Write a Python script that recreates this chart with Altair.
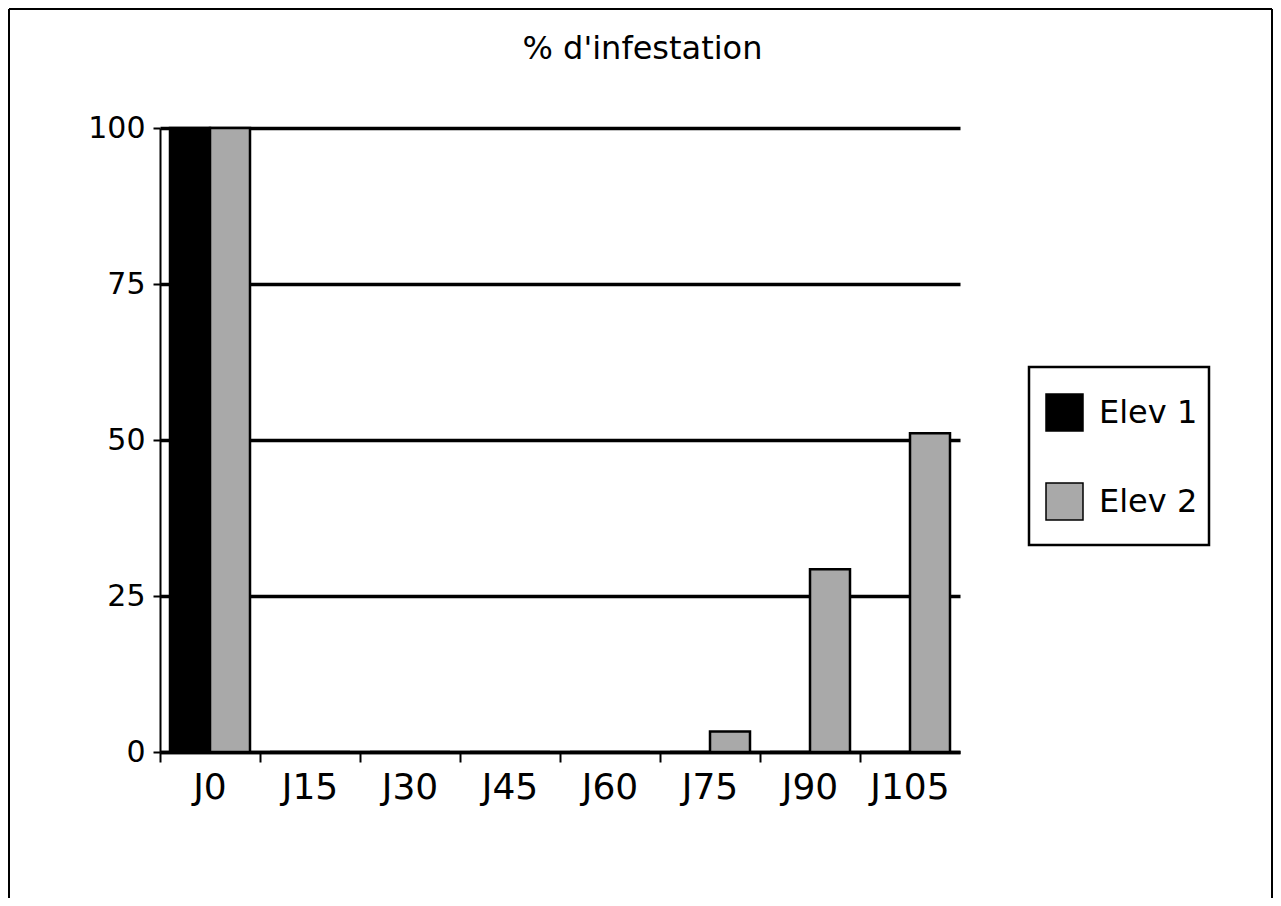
import altair as alt
import pandas as pd

title_text = "% d'infestation"
days = ["J0", "J15", "J30", "J45", "J60", "J75", "J90", "J105"]
series = ["Elev 1", "Elev 2"]
elev1 = [100, 0, 0, 0, 0, 0, 0, 0]
elev2 = [100, 0, 0, 0, 0, 3.3, 29.3, 51.1]
y_ticks = [0, 25, 50, 75, 100]

rows = []
for d, a, b in zip(days, elev1, elev2):
    rows.append({"jour": d, "serie": series[0], "val": a})
    rows.append({"jour": d, "serie": series[1], "val": b})
df = pd.DataFrame(rows)

FONT = "DejaVu Sans"

bars = alt.Chart(df).mark_bar(stroke="black", strokeWidth=2.5).encode(
    x=alt.X("jour:N", sort=days,
            scale=alt.Scale(paddingInner=0, paddingOuter=0),
            axis=alt.Axis(title=None, bandPosition=0, labelAngle=0,
                          domainColor="black", domainWidth=3.5,
                          tickColor="black", tickWidth=2, tickSize=10,
                          labelFont=FONT, labelFontSize=36, labelColor="black",
                          labelPadding=8, grid=False)),
    xOffset=alt.XOffset("serie:N", sort=series,
                        scale=alt.Scale(paddingInner=0, paddingOuter=0.25)),
    y=alt.Y("val:Q", scale=alt.Scale(domain=[0, 100], nice=False),
            axis=alt.Axis(title=None, values=y_ticks, grid=True,
                          gridColor="black", gridWidth=3.5,
                          domainColor="black", domainWidth=2,
                          tickColor="black", tickWidth=2, tickSize=7,
                          labelFont=FONT, labelFontSize=30, labelColor="black",
                          labelPadding=8)),
    color=alt.Color("serie:N", sort=series,
                    scale=alt.Scale(domain=series, range=["#000000", "#a9a9a9"]),
                    legend=alt.Legend(orient="none", legendX=885, legendY=265,
                                      title=None, symbolType="square",
                                      symbolSize=1369, symbolStrokeColor="black",
                                      symbolStrokeWidth=1.5,
                                      labelFont=FONT, labelFontSize=32,
                                      labelColor="black", labelOffset=15,
                                      rowPadding=46, padding=0)),
)

title = alt.Chart(pd.DataFrame({"t": [title_text]})).mark_text(
    font=FONT, fontSize=32, align="center", baseline="alphabetic", color="black"
).encode(x=alt.value(482.5), y=alt.value(-69), text="t:N")

one = pd.DataFrame({"k": [0]})
legend_box = alt.Chart(one).mark_rect(
    fill="white", fillOpacity=0, stroke="black", strokeWidth=2.5
).encode(x=alt.value(869), x2=alt.value(1049), y=alt.value(239), y2=alt.value(417))

frame_left = alt.Chart(one).mark_rule(color="black", strokeWidth=2).encode(
    x=alt.value(-151), y=alt.value(-119), y2=alt.value(790))
frame_top = alt.Chart(one).mark_rule(color="black", strokeWidth=2).encode(
    x=alt.value(-151), x2=alt.value(1112), y=alt.value(-119))
frame_right = alt.Chart(one).mark_rule(color="black", strokeWidth=2).encode(
    x=alt.value(1112), y=alt.value(-119), y2=alt.value(790))

chart = alt.layer(bars, title, legend_box, frame_left, frame_top, frame_right).properties(
    width=800, height=624,
    padding={"left": 152, "top": 120, "right": 313, "bottom": 146},
    autosize=alt.AutoSizeParams(type="none"),
    background="white",
).configure_view(stroke=None)

chart.save("out.html", embed_options={"renderer": "svg", "actions": False})
